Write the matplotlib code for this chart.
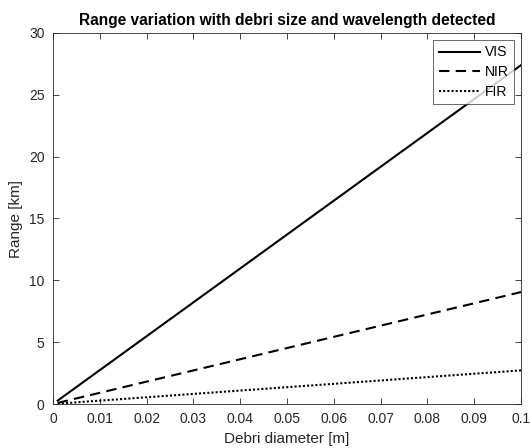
import matplotlib
matplotlib.use("Agg")
import matplotlib.pyplot as plt
import numpy as np

plt.rcParams['font.family'] = ['Liberation Sans', 'DejaVu Sans']

# Debris diameter [m] and detection range [km] for each band
diameter = [0.001, 0.1]
range_vis = [0.274, 27.4]
range_nir = [0.090, 9.05]
range_fir = [0.027, 2.72]
labels = ["VIS", "NIR", "FIR"]
xticks = [0, 0.01, 0.02, 0.03, 0.04, 0.05, 0.06, 0.07, 0.08, 0.09, 0.1]
xticklabels = ["0", "0.01", "0.02", "0.03", "0.04", "0.05", "0.06", "0.07", "0.08", "0.09", "0.1"]
yticks = [0, 5, 10, 15, 20, 25, 30]

fig = plt.figure(figsize=(5.3, 4.48), dpi=100)
ax = fig.add_axes([53 / 530, 1 - 404 / 448, 468 / 530, 371 / 448])

lw = 1.5
ax.plot(diameter, range_vis, color='black', linestyle='-', linewidth=lw, label=labels[0])
ax.plot(diameter, range_nir, color='black', linestyle=(0, (5, 3)), linewidth=lw, label=labels[1])
ax.plot(diameter, range_fir, color='black', linestyle=(0, (1, 1)), linewidth=lw, label=labels[2])

ax.set_xlim(0, 0.1)
ax.set_ylim(0, 30)
ax.set_xticks(xticks)
ax.set_xticklabels(xticklabels)
ax.set_yticks(yticks)
ax.tick_params(direction='in', top=True, right=True, length=4, width=0.6,
               labelsize=10, colors='#262626')
ax.tick_params(axis='x', pad=6)
ax.tick_params(axis='y', pad=6)
for s in ax.spines.values():
    s.set_linewidth(0.6)
    s.set_color('#262626')

ax.set_xlabel("Debri diameter [m]", fontsize=11, color='#262626', labelpad=4)
ax.set_ylabel("Range [km]", fontsize=11, color='#262626', labelpad=4)
ax.set_title("Range variation with debri size and wavelength detected",
             fontsize=11.2, fontweight='bold', pad=6)

leg = ax.legend(loc='upper right', fontsize=10, frameon=True, fancybox=False,
                edgecolor='#262626', handlelength=3.0, handletextpad=0.3,
                borderpad=0.4, labelspacing=0.4, borderaxespad=0.5)
leg.get_frame().set_linewidth(0.6)

fig.savefig("out.png", dpi=100)
